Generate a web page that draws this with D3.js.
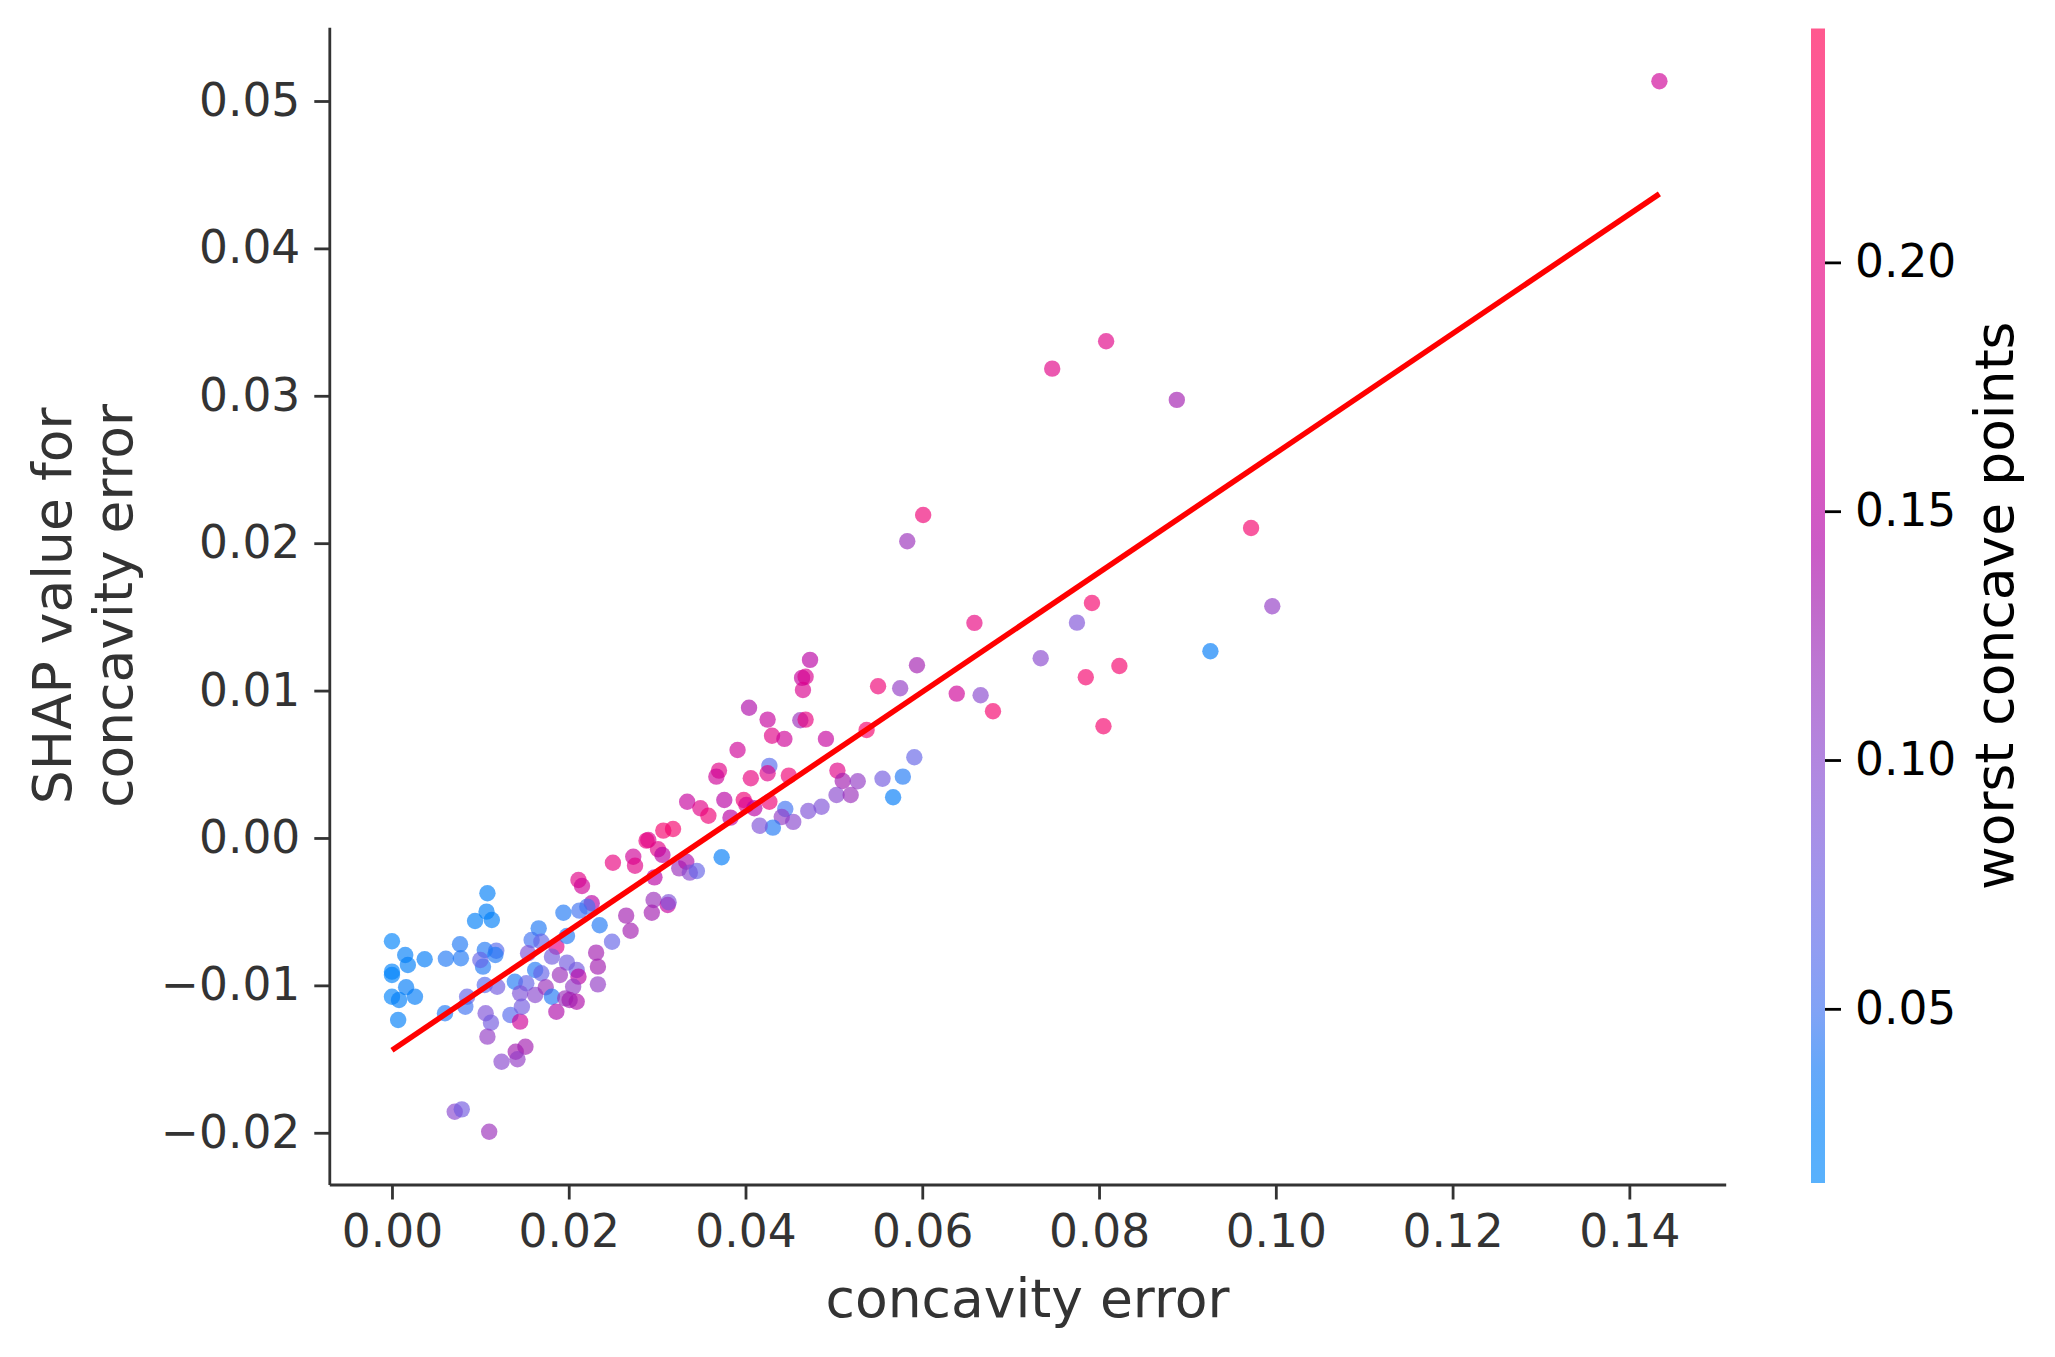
<!DOCTYPE html>
<html>
<head>
<meta charset="utf-8">
<script src="https://cdnjs.cloudflare.com/ajax/libs/d3/7.8.5/d3.min.js"></script>
<style>
  body { margin: 0; background: #fff; }
  svg { display: block; font-family: "DejaVu Sans", sans-serif; }
</style>
</head>
<body>
<div id="dependence-plot"></div>
<script>
// feature value (x), SHAP value (y) and colouring feature, one entry per sample
const concavityError = [
  0.1434,0.0808,0.0747,0.0888,0.0972,0.0601,0.0583,
  0.0659,0.0594,0.0575,0.0639,0.0666,0.0680,0.0775,0.0792,0.0734,0.0785,0.0823,0.0805,0.0926,0.0996,0.0591,0.0578,0.0567,
  0.0473,0.0464,0.0468,0.0465,0.0550,0.0404,0.0425,0.0462,0.0468,0.0430,0.0444,0.0491,0.0537,0.0391,0.0555,0.0504,
  0.0510,0.0527,0.0503,0.0519,0.0486,0.0471,0.0454,0.0445,0.0441,0.0431,0.0416,0.0427,0.0425,0.0449,0.0406,0.0370,
  0.0367,0.0376,0.0398,0.0401,0.0410,0.0427,0.0334,0.0349,0.0358,0.0383,0.0307,0.0318,0.0373,
  0.0290,0.0288,0.0301,0.0306,0.0273,0.0275,0.0250,0.0325,0.0333,0.0337,0.0345,0.0297,0.0211,0.0215,0.0296,0.0294,
  0.0312,0.0313,0.0265,0.0270,0.0235,0.0249,0.0226,0.0221,0.0212,0.0194,0.0186,0.0198,0.0166,0.0158,0.0169,0.0154,
  0.0181,0.0162,0.0169,0.0198,0.0209,0.0190,0.0231,0.0233,0.0108,0.0107,0.0113,0.0118,0.0105,0.0103,0.0139,
  0.0094,0.0000,0.0015,0.0018,0.0037,0.0000,0.0000,0.0016,0.0000,0.0008,0.0026,0.0007,0.0061,0.0077,0.0078,0.0100,
  0.0117,0.0085,0.0083,0.0060,0.0105,0.0119,0.0106,0.0112,0.0108,0.0152,0.0145,0.0134,0.0145,0.0147,0.0162,0.0174,
  0.0181,0.0186,0.0211,0.0205,0.0196,0.0209,0.0201,0.0233,0.0151,0.0140,0.0142,0.0124,0.0071,0.0079,0.0110
];
const shapValues = [
  0.05134,0.03370,0.03184,0.02972,0.02103,0.02191,0.02013,
  0.01459,0.01172,0.01016,0.00979,0.00968,0.00860,0.01461,0.01594,0.01219,0.01090,0.01167,0.00758,0.01267,0.01572,0.00548,0.00416,0.00276,
  0.01208,0.01086,0.01094,0.01004,0.01029,0.00884,0.00803,0.00799,0.00803,0.00694,0.00672,0.00672,0.00733,0.00597,0.00402,0.00457,
  0.00387,0.00385,0.00292,0.00292,0.00212,0.00183,0.00109,0.00197,0.00142,0.00070,0.00083,0.00489,0.00439,0.00423,0.00405,0.00457,
  0.00416,0.00258,0.00258,0.00224,0.00202,0.00246,0.00246,0.00202,0.00151,0.00138,0.00050,0.00061,-0.00131,
  -0.00014,-0.00018,-0.00077,-0.00115,-0.00127,-0.00188,-0.00168,-0.00206,-0.00161,-0.00235,-0.00224,-0.00267,-0.00285,-0.00326,-0.00421,-0.00507,
  -0.00455,-0.00436,-0.00527,-0.00629,-0.00592,-0.00704,-0.00443,-0.00466,-0.00493,-0.00507,-0.00738,-0.00665,-0.00613,-0.00692,-0.00704,-0.00782,
  -0.00805,-0.00896,-0.00918,-0.00846,-0.00896,-0.00930,-0.00778,-0.00873,-0.00375,-0.00500,-0.00556,-0.00765,-0.00760,-0.00873,-0.00975,
  -0.00563,-0.00701,-0.00794,-0.00862,-0.00823,-0.00907,-0.00930,-0.01013,-0.01077,-0.01099,-0.01077,-0.01235,-0.00819,-0.00721,-0.00816,-0.00828,
  -0.00794,-0.01077,-0.01145,-0.01189,-0.00997,-0.01009,-0.01189,-0.01253,-0.01348,-0.00986,-0.01054,-0.01201,-0.01246,-0.01145,-0.01065,-0.01013,
  -0.01077,-0.01179,-0.00941,-0.01009,-0.01088,-0.01111,-0.01099,-0.00993,-0.01416,-0.01450,-0.01501,-0.01518,-0.01857,-0.01841,-0.01993
];
const worstConcavePoints = [
  0.17,0.19,0.19,0.13,0.22,0.21,0.12,
  0.20,0.13,0.11,0.17,0.10,0.22,0.09,0.22,0.10,0.22,0.22,0.22,0.035,0.11,0.07,0.04,0.035,
  0.15,0.16,0.18,0.18,0.21,0.14,0.16,0.12,0.20,0.19,0.17,0.16,0.22,0.17,0.08,0.19,
  0.13,0.11,0.10,0.12,0.09,0.09,0.10,0.05,0.11,0.04,0.09,0.06,0.19,0.21,0.20,0.19,
  0.17,0.15,0.21,0.18,0.15,0.21,0.16,0.19,0.21,0.15,0.22,0.22,0.035,
  0.18,0.20,0.19,0.15,0.17,0.19,0.20,0.12,0.14,0.10,0.07,0.15,0.19,0.17,0.12,0.13,
  0.16,0.09,0.13,0.13,0.04,0.07,0.15,0.05,0.05,0.04,0.19,0.04,0.04,0.05,0.07,0.09,
  0.08,0.04,0.07,0.08,0.08,0.12,0.13,0.13,0.03,0.03,0.03,0.06,0.04,0.04,0.04,
  0.03,0.025,0.03,0.03,0.035,0.025,0.025,0.035,0.025,0.03,0.035,0.03,0.04,0.04,0.04,0.07,
  0.04,0.07,0.05,0.04,0.06,0.08,0.09,0.08,0.11,0.07,0.09,0.06,0.17,0.08,0.10,0.12,
  0.04,0.14,0.15,0.11,0.12,0.14,0.13,0.11,0.13,0.13,0.11,0.10,0.10,0.08,0.12
];

// least squares fit drawn in red
const fitLineX = [0.0, 0.1434];
const fitLineY = [-0.0144, 0.0437];

const xTicks = [0.00, 0.02, 0.04, 0.06, 0.08, 0.10, 0.12, 0.14];
const yTicks = [-0.02, -0.01, 0.00, 0.01, 0.02, 0.03, 0.04, 0.05];
const colorTicks = [0.05, 0.10, 0.15, 0.20];

const xDomain = [-0.00709, 0.15090];
const yDomain = [-0.02351, 0.05500];
const colorDomain = [0.0150, 0.2470];

const width = 2055;
const height = 1357;
const margin = { top: 27.3, right: 329.3, bottom: 172.5, left: 329.3 };
const plotRight = 1725.7;
const plotBottom = height - margin.bottom;

// shap red_blue colormap: LCh, hue blue -> red, chroma 70 -> 90,
// lightness dips from 54 to 40 in the middle and back
const redBlue = function(t) {
  const l = t < 0.5 ? 54 - 28 * t : 40 + 28 * (t - 0.5);
  return d3.hcl(266.93 + t * 113.39, 70 + 20 * t, l).formatHex();
};
const colorT = d3.scaleLinear().domain(colorDomain).range([0, 1]).clamp(true);
const dotAlpha = 0.65;
const textGrey = '#333333';

const svg = d3.select('#dependence-plot')
  .append('svg')
  .attr('width', width)
  .attr('height', height);

const x = d3.scaleLinear().domain(xDomain).range([margin.left, plotRight]);
const y = d3.scaleLinear().domain(yDomain).range([plotBottom, margin.top]);

// axes
const xAxis = svg.append('g')
  .attr('transform', `translate(0,${plotBottom})`)
  .call(d3.axisBottom(x).tickValues(xTicks).tickFormat(d3.format('.2f'))
    .tickSize(15).tickSizeOuter(0).tickPadding(15));

const yAxis = svg.append('g')
  .attr('transform', `translate(${margin.left},0)`)
  .call(d3.axisLeft(y).tickValues(yTicks).tickFormat(d3.format('.2f'))
    .tickSize(15).tickSizeOuter(0).tickPadding(14));

[xAxis, yAxis].forEach(function(g) {
  g.attr('font-family', null).attr('font-size', null);
  g.select('.domain').attr('stroke', textGrey).attr('stroke-width', 2.8);
  g.selectAll('.tick line').attr('stroke', textGrey).attr('stroke-width', 2.8);
  g.selectAll('.tick text').attr('fill', textGrey).style('font-size', '45.5px');
});

// points
const points = concavityError.map(function(v, i) {
  return { x: v, y: shapValues[i], c: worstConcavePoints[i] };
});

svg.append('g')
  .selectAll('circle')
  .data(points)
  .enter()
  .append('circle')
    .attr('cx', function(d) { return x(d.x); })
    .attr('cy', function(d) { return y(d.y); })
    .attr('r', 8.2)
    .attr('fill', function(d) { return redBlue(colorT(d.c)); })
    .attr('fill-opacity', dotAlpha);

// regression line
svg.append('path')
  .datum(fitLineX.map(function(v, i) { return [v, fitLineY[i]]; }))
  .attr('fill', 'none')
  .attr('stroke', '#ff0000')
  .attr('stroke-width', 5.5)
  .attr('d', d3.line()
    .x(function(d) { return x(d[0]); })
    .y(function(d) { return y(d[1]); }));

// axis labels
svg.append('text')
  .attr('x', (margin.left + plotRight) / 2)
  .attr('y', 1316.7)
  .attr('text-anchor', 'middle')
  .attr('fill', textGrey)
  .style('font-size', '53.5px')
  .text('concavity error');

const yLabelLines = ['SHAP value for', 'concavity error'];
svg.selectAll('.ylabel')
  .data(yLabelLines)
  .enter()
  .append('text')
    .attr('class', 'ylabel')
    .attr('transform', function(d, i) {
      return `translate(${71 + i * 60.7},${(margin.top + plotBottom) / 2}) rotate(-90)`;
    })
    .attr('text-anchor', 'middle')
    .attr('fill', textGrey)
    .style('font-size', '53.5px')
    .text(function(d) { return d; });

// colour bar
const cbarX = 1811;
const cbarW = 14;
const cbarTop = 28.5;
const cbarBottom = 1183;
const cy = d3.scaleLinear().domain(colorDomain).range([cbarBottom, cbarTop]);

const grad = svg.append('defs')
  .append('linearGradient')
  .attr('id', 'cbar-grad')
  .attr('x1', 0).attr('y1', 1)
  .attr('x2', 0).attr('y2', 0);

grad.selectAll('stop')
  .data(d3.range(0, 1.0001, 0.05))
  .enter()
  .append('stop')
    .attr('offset', function(d) { return d; })
    .attr('stop-color', function(d) { return redBlue(d); });

svg.append('rect')
  .attr('x', cbarX)
  .attr('y', cbarTop)
  .attr('width', cbarW)
  .attr('height', cbarBottom - cbarTop)
  .attr('fill', 'url(#cbar-grad)')
  .attr('fill-opacity', dotAlpha);

const cAxis = svg.append('g')
  .attr('transform', `translate(${cbarX + cbarW},0)`)
  .call(d3.axisRight(cy).tickValues(colorTicks).tickFormat(d3.format('.2f'))
    .tickSize(16).tickPadding(14));

cAxis.attr('font-family', null).attr('font-size', null);
cAxis.select('.domain').remove();
cAxis.selectAll('.tick line').attr('stroke', '#000').attr('stroke-width', 2.8);
cAxis.selectAll('.tick text').attr('fill', '#000').style('font-size', '45.5px');

svg.append('text')
  .attr('transform', `translate(2013,${(cbarTop + cbarBottom) / 2}) rotate(-90)`)
  .attr('text-anchor', 'middle')
  .attr('fill', '#000')
  .style('font-size', '53.5px')
  .text('worst concave points');
</script>
</body>
</html>
